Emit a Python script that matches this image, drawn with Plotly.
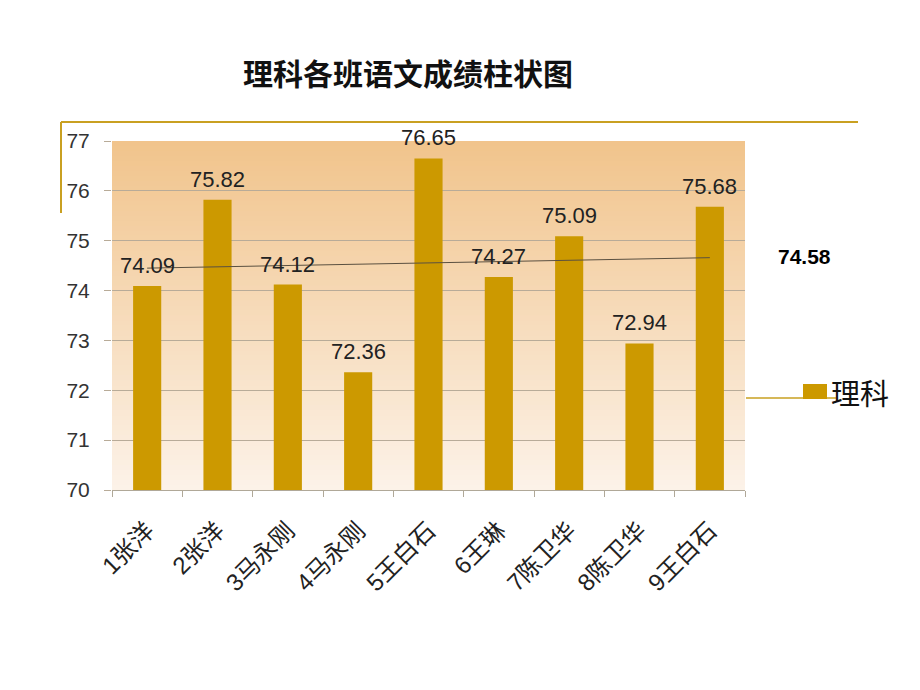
import plotly.graph_objects as go

categories = ["1张洋", "2张洋", "3马永刚", "4马永刚", "5王白石", "6王琳", "7陈卫华", "8陈卫华", "9王白石"]
scores = [74.09, 75.82, 74.12, 72.36, 76.65, 74.27, 75.09, 72.94, 75.68]
trend_values = [74.45, 74.66]
average_label = "74.58"
series_name = "理科"
title_text = "理科各班语文成绩柱状图"

W, H = 920, 690
L, R, T, B = 112, 745, 141, 490
pw, ph = R - L, B - T

def px(x):
    return (x - L) / pw

def py(y):
    return (B - y) / ph

gold = "#CC9900"
deco = "#C9A021"

fig = go.Figure()
fig.add_trace(go.Bar(
    x=categories, y=scores, width=0.4, marker=dict(color=gold, line=dict(width=0)),
    name=series_name, showlegend=False,
))
fig.add_trace(go.Scatter(
    x=[categories[0], categories[-1]], y=trend_values, mode="lines",
    line=dict(color="#5a5040", width=1), showlegend=False, hoverinfo="skip",
))

shapes = []
# gradient background (overlapping stack to avoid seams)
n = 70
top = (241, 196, 140)
bot = (252, 242, 232)
for i in range(n):
    f = i / (n - 1)
    c = tuple(round(top[k] + (bot[k] - top[k]) * f) for k in range(3))
    shapes.append(dict(type="rect", xref="x domain", yref="y domain", layer="below",
                       x0=0, x1=1, y0=0, y1=1 - i / n,
                       line=dict(width=0), fillcolor=f"rgb{c}"))
# decorative lines
shapes.append(dict(type="line", xref="paper", yref="paper", x0=px(61), x1=px(858), y0=py(122), y1=py(122),
                   line=dict(color=deco, width=2)))
shapes.append(dict(type="line", xref="paper", yref="paper", x0=px(61), x1=px(61), y0=py(122), y1=py(213),
                   line=dict(color=deco, width=2)))
shapes.append(dict(type="line", xref="paper", yref="paper", x0=px(746), x1=px(836), y0=py(398), y1=py(398),
                   line=dict(color=deco, width=1.5)))
# legend swatch
shapes.append(dict(type="rect", xref="paper", yref="paper", x0=px(803), x1=px(827), y0=py(399), y1=py(384),
                   line=dict(width=0), fillcolor=gold))

annotations = [
    dict(text=f"<b>{title_text}</b>", xref="paper", yref="paper", x=px(408), y=py(72), showarrow=False,
         font=dict(family="Noto Sans CJK SC", size=30, color="#111111"), xanchor="center", yanchor="middle"),
    dict(text=f"<b>{average_label}</b>", xref="paper", yref="paper", x=px(804), y=py(256), showarrow=False,
         font=dict(family="Liberation Sans, Arial", size=21, color="#000000"), xanchor="center", yanchor="middle"),
    dict(text=series_name, xref="paper", yref="paper", x=px(829), y=py(392), showarrow=False,
         font=dict(family="Noto Sans CJK SC", size=29, color="#111111"), xanchor="left", yanchor="middle"),
]
for cat, v in zip(categories, scores):
    annotations.append(dict(text=f"{v:.2f}", x=cat, y=v, xref="x", yref="y", showarrow=False,
                            xanchor="center", yanchor="bottom", yshift=6,
                            font=dict(family="Liberation Sans, Arial", size=22, color="#222222")))

fig.update_layout(
    width=W, height=H,
    margin=dict(l=L, r=W - R, t=T, b=H - B, pad=0),
    paper_bgcolor="white", plot_bgcolor="rgba(0,0,0,0)",
    shapes=shapes, annotations=annotations, showlegend=False, bargap=0.6,
)
fig.update_xaxes(
    type="category", tickangle=-45, tickson="boundaries", ticks="outside", ticklen=6,
    tickcolor="#b0a898", showgrid=False, showline=True, linecolor="#b0a898", linewidth=1,
    tickfont=dict(family="Liberation Sans, Noto Sans CJK SC", size=24, color="#222222"),
    ticklabelstandoff=16,
)
fig.update_yaxes(
    range=[70, 77], dtick=1, tick0=70, showgrid=True, gridcolor="#b8ab98", gridwidth=1,
    ticks="outside", ticklen=7, tickcolor="#b8ab98", zeroline=False, showline=False,
    tickfont=dict(family="Liberation Sans, Arial", size=21, color="#333333"),
    ticklabelstandoff=10,
)
fig.write_html("out.html")
